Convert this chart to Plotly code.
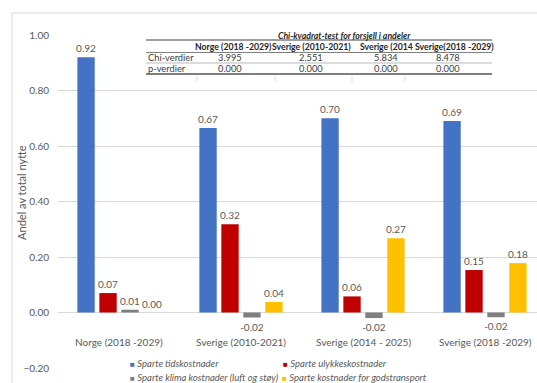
import plotly.graph_objects as go

# ---------------- data ----------------
categories = ["Norge (2018 -2029)", "Sverige (2010-2021)", "Sverige (2014 - 2025)", "Sverige (2018 -2029)"]
series_names = ["Sparte tidskostnader", "Sparte ulykkeskostnader",
                "Sparte klima kostnader (luft og støy)", "Sparte kostnader for godstransport"]
tidskostnader = [0.92, 0.665, 0.70, 0.69]
ulykkeskostnader = [0.07, 0.318, 0.058, 0.153]
klimakostnader = [0.01, -0.018, -0.02, -0.017]
godstransport = [0.0, 0.038, 0.268, 0.178]
series_colors = ["#4472C4", "#C00000", "#7F7F7F", "#FFC000"]

table_title = "Chi-kvadrat-test for forsjell i andeler"
table_columns = ["Norge (2018 -2029)", "Sverige (2010-2021)", "Sverige (2014", "Sverige(2018 -2029)"]
table_rows = ["Chi-verdier", "p-verdier"]
chi_values = ["3.995", "2.551", "5.834", "8.478"]
p_values = ["0.000", "0.000", "0.000", "0.000"]

y_ticks = [-0.2, 0.0, 0.2, 0.4, 0.6, 0.8, 1.0]
y_title = "Andel av total nytte"

# ---------------- layout helpers ----------------
W, H = 537, 383
L, R, T, B = 58, 537, 35, 368.2
PW, PH = R - L, B - T


def px_x(x):
    return (x - L) / PW


def px_y(y):
    return (B - y) / PH


FONT = "Lato"
TFONT = "Lato"
GREY = "#595959"

fig = go.Figure()
all_series = [tidskostnader, ulykkeskostnader, klimakostnader, godstransport]
for name, vals, col in zip(series_names, all_series, series_colors):
    fig.add_trace(go.Bar(
        x=list(range(len(categories))), y=vals, name=name,
        marker=dict(color=col, line=dict(width=0)),
        texttemplate="%{y:.2f}", textposition="outside", constraintext="none",
        textfont=dict(family=FONT, size=10, color=GREY),
        cliponaxis=False, showlegend=False,
    ))

# category labels
for i, c in enumerate(categories):
    fig.add_annotation(x=i, y=-0.106, xref="x", yref="y", text=c, showarrow=False, xanchor="center",
                       font=dict(family=FONT, size=10, color=GREY))

# y axis title
fig.add_annotation(xref="paper", yref="paper", x=px_x(22), y=px_y(193), text=y_title, textangle=-90,
                   xanchor="center", yanchor="middle",
                   showarrow=False, font=dict(family=FONT, size=11, color=GREY))

# legend (2 x 2)
leg_pos = [(128, 364), (281, 364), (128, 378), (280, 378)]
for name, col, (lx, ly) in zip(series_names, series_colors, leg_pos):
    fig.add_annotation(xref="paper", yref="paper", x=px_x(lx), y=px_y(ly), xanchor="left", yanchor="middle",
                       text='<span style="color:%s;font-style:normal;font-size:8px">■</span> <i>%s</i>' % (col, name),
                       showarrow=False, font=dict(family=FONT, size=9.5, color=GREY))

shapes = []
# outer frame (chart border)
shapes.append(dict(type="line", xref="paper", yref="paper", x0=px_x(12), x1=px_x(540),
                   y0=px_y(13), y1=px_y(13), line=dict(color="#D9D9D9", width=1)))
shapes.append(dict(type="line", xref="paper", yref="paper", x0=px_x(12), x1=px_x(12),
                   y0=px_y(13), y1=px_y(390), line=dict(color="#D9D9D9", width=1)))

# table background
shapes.append(dict(type="rect", xref="paper", yref="paper", x0=px_x(146), x1=px_x(492),
                   y0=px_y(84), y1=px_y(27), fillcolor="white", line=dict(width=0), layer="above"))
# table lines
for yy, col, wd in [(40, "#7F7F7F", 1.5), (52.5, "#7F7F7F", 1), (63, "#A6A6A6", 0.8), (74, "#7F7F7F", 1.8)]:
    shapes.append(dict(type="line", xref="paper", yref="paper", x0=px_x(146), x1=px_x(492),
                       y0=px_y(yy), y1=px_y(yy), line=dict(color=col, width=wd), layer="above"))
for xx in [197, 275, 352, 405]:
    shapes.append(dict(type="line", xref="paper", yref="paper", x0=px_x(xx), x1=px_x(xx),
                       y0=px_y(75), y1=px_y(82), line=dict(color="#E0E0E0", width=1), layer="above"))
fig.update_layout(shapes=shapes)

TSB = 8.7
TS = 9.3
fig.add_annotation(xref="paper", yref="paper", x=px_x(344), y=px_y(35.5), text="<b><i>" + table_title + "</i></b>",
                   xanchor="center", yanchor="middle",
                   showarrow=False, font=dict(family=TFONT, size=TSB, color="#262626"))
col_centers = [233, 311, 386, 454]
for i, (h, cx) in enumerate(zip(table_columns, col_centers)):
    if i == 2:
        fig.add_annotation(xref="paper", yref="paper", x=px_x(358), y=px_y(46.5), text="<b>" + h + "</b>",
                           showarrow=False, xanchor="left", yanchor="middle",
                           font=dict(family=TFONT, size=TSB, color="#262626"))
    else:
        fig.add_annotation(xref="paper", yref="paper", x=px_x(cx), y=px_y(46.5), text="<b>" + h + "</b>",
                           showarrow=False, xanchor="center", yanchor="middle",
                           font=dict(family=TFONT, size=TSB, color="#262626"))
value_centers = [230, 311, 386, 448]
for r, (rowname, vals, yy) in enumerate(zip(table_rows, [chi_values, p_values], [57.5, 68.5])):
    fig.add_annotation(xref="paper", yref="paper", x=px_x(146), y=px_y(yy), text=rowname,
                       xanchor="left", yanchor="middle",
                       showarrow=False, font=dict(family=TFONT, size=TS, color="#404040"))
    for v, cx in zip(vals, value_centers):
        fig.add_annotation(xref="paper", yref="paper", x=px_x(cx), y=px_y(yy), text=v,
                           xanchor="center", yanchor="middle",
                           showarrow=False, font=dict(family=TFONT, size=TS, color="#404040"))

fig.update_layout(
    width=W, height=H,
    margin=dict(l=L, r=W - R, t=T, b=H - B, pad=0, autoexpand=False),
    plot_bgcolor="white", paper_bgcolor="white",
    barmode="group", bargap=0.28, bargroupgap=0.21,
    showlegend=False,
    xaxis=dict(range=[-0.5, -0.5 + PW / 122.0], showticklabels=False, showgrid=False,
               zeroline=False, showline=False, ticks="", fixedrange=True),
    yaxis=dict(range=[-0.2, 1.0], tickvals=y_ticks, tickformat=".2f",
               showgrid=True, gridcolor="#D9D9D9", gridwidth=1,
               zeroline=True, zerolinecolor="#D9D9D9", zerolinewidth=1,
               showline=False, ticks="", ticklabelstandoff=8, automargin=False,
               tickfont=dict(family=FONT, size=10, color=GREY)),
    font=dict(family=FONT, color=GREY),
)

fig.write_html("out.html", config={"displayModeBar": False})
